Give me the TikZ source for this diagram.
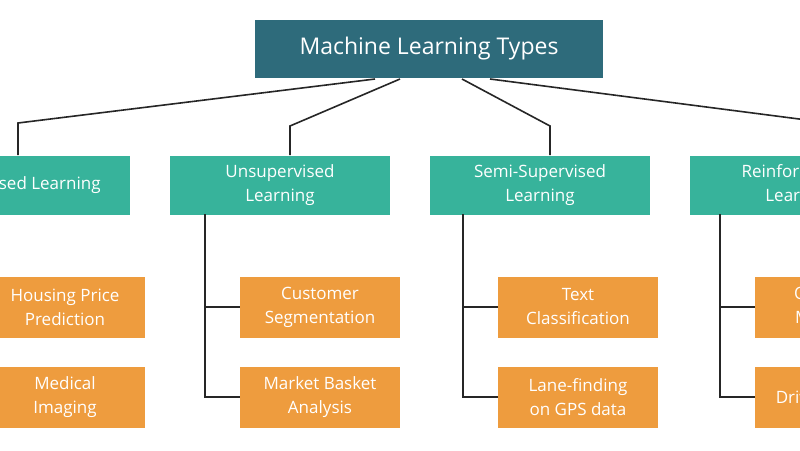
\documentclass[tikz,border=0pt]{standalone}
\usepackage{fontspec}
\setmainfont{Open Sans}
\definecolor{topblue}{HTML}{2E6B7B}
\definecolor{teal}{HTML}{37B39B}
\definecolor{amber}{HTML}{EE9C3E}
\tikzset{
  typebox/.style={fill=teal,text=white,minimum width=220pt,minimum height=59pt,align=center,font=\fontsize{17}{24}\selectfont,inner sep=0pt},
  casebox/.style={fill=amber,text=white,minimum width=160pt,minimum height=61pt,align=center,font=\fontsize{17}{24}\selectfont,inner sep=0pt},
  link/.style={draw=black!85,line width=1.6pt}
}
\begin{document}
\begin{tikzpicture}[x=1pt,y=-1pt]
  \useasboundingbox[fill=white] (0,0) rectangle (800,450);
  \node[fill=topblue,text=white,minimum width=348pt,minimum height=58pt,font=\fontsize{23}{28}\selectfont,inner sep=0pt] (ml) at (429,49) {Machine Learning Types};
  % learning types
  \node[typebox] (sup) at (20,185) {Supervised Learning};
  \node[typebox] (unsup) at (280,185) {Unsupervised\\Learning};
  \node[typebox] (semi) at (540,185) {Semi-Supervised\\Learning};
  \node[typebox] (rein) at (800,185) {Reinforcement\\Learning};
  % examples
  \node[casebox] (house) at (65,307) {Housing Price\\Prediction};
  \node[casebox] (med) at (65,397) {Medical\\Imaging};
  \node[casebox] (cust) at (320,307) {Customer\\Segmentation};
  \node[casebox] (basket) at (320,397) {Market Basket\\Analysis};
  \node[casebox] (text) at (578,307) {Text\\Classification};
  \node[casebox] (lane) at (578,397) {Lane-finding\\on GPS data};
  \node[casebox] (opt) at (835,307) {Optimized\\Marketing};
  \node[casebox] (drive) at (835,397) {Driverless Cars};
  % top links
  \coordinate (k1) at (375,79);
  \coordinate (k2) at (400,79);
  \coordinate (k3) at (462,79);
  \coordinate (k4) at (490,79);
  \draw[link] (k1) -- (18,123) -- (18,155);
  \draw[link] (k2) -- (290,126) -- (290,155);
  \draw[link] (k3) -- (550,126) -- (550,155);
  \draw[link] (k4) -- (830,123) -- (830,155);
  % column links
  \foreach \t/\a/\b/\x in {sup/house/med/-20,unsup/cust/basket/205,semi/text/lane/463,rein/opt/drive/720}{
    \draw[link] (\x,214) |- (\b.west);
    \draw[link] (\x,307) -- (\a.west);
  }
\end{tikzpicture}
\end{document}
